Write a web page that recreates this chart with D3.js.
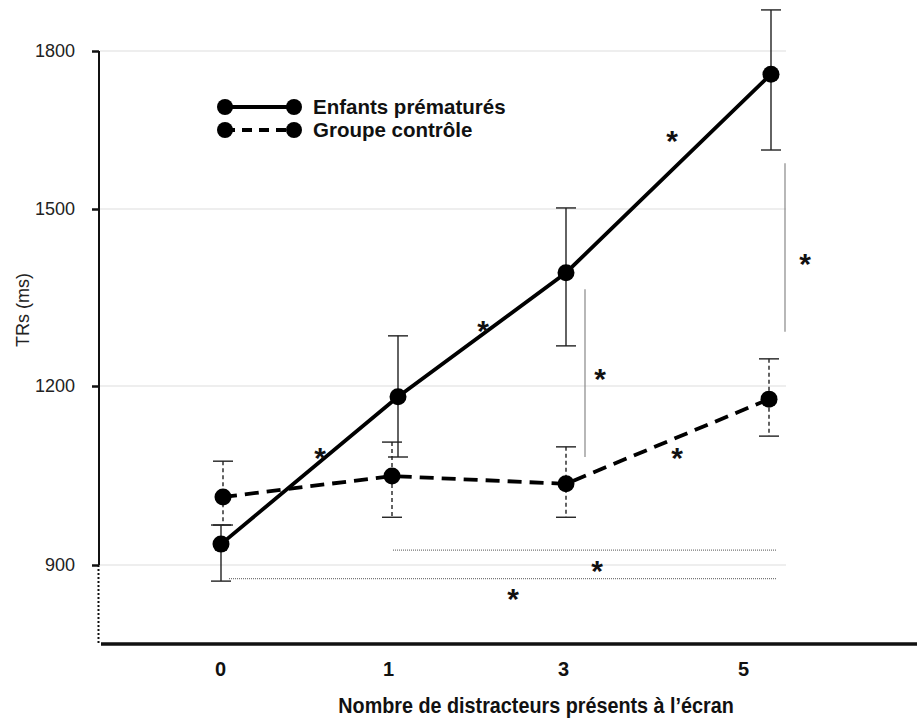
<!DOCTYPE html>
<html><head><meta charset="utf-8">
<script src="https://cdn.jsdelivr.net/npm/d3@7"></script>
<style>body{margin:0;background:#fff}svg{display:block}</style>
</head><body>
<svg id="c" width="917" height="719"></svg>
<script>
const categories = ["0","1","3","5"];
const premMean = [935,1182,1392,1756];
const premHigh = [967,1285,1502,1878];
const premLow  = [873,1081,1268,1612];
const ctrlMean = [1014,1049,1036,1178];
const ctrlHigh = [1074,1106,1098,1246];
const ctrlLow  = [967,980,980,1116];
const yTicks = [900,1200,1500,1800];
const seriesNames = ["Enfants prématurés","Groupe contrôle"];
const xTitle = "Nombre de distracteurs présents à l’écran";
const yTitle = "TRs (ms)";
// significance comparisons (values)
const vertComp = [{cat:"3", lo:1081, hi:1364}, {cat:"5", lo:1292, hi:1587}];
const horizComp = [{from:"1", to:"5", v:925}, {from:"0", to:"5", v:877}];

const svg = d3.select("#c");
const font = "'Liberation Sans', Arial, sans-serif";

const y = d3.scaleLinear().domain([900,1200,1500,1800]).range([565,386,209,51]);
const xPrem = d3.scaleOrdinal().domain(categories).range([221,398,566,771]);
const xCtrl = d3.scaleOrdinal().domain(categories).range([223,392,566,769]);
const xLab  = d3.scaleOrdinal().domain(categories).range([220,388,563,743]);

// grid
svg.append("g").selectAll("line").data(yTicks).join("line")
  .attr("x1",100).attr("x2",786).attr("y1",d=>y(d)).attr("y2",d=>y(d))
  .attr("stroke","#e9e9e9").attr("stroke-width",1.3);

// y axis
const ya = svg.append("g").attr("transform","translate(99,0)")
  .call(d3.axisLeft(y).tickValues(yTicks).tickSize(7).tickPadding(17).tickFormat(d3.format("d")));
ya.select(".domain").remove();
ya.selectAll(".tick line").attr("stroke","#111").attr("stroke-width",2.5);
ya.selectAll(".tick text").attr("font-family",font).attr("font-size",18).attr("fill","#222");
svg.append("line").attr("x1",99).attr("x2",99).attr("y1",y(1800)).attr("y2",y(900))
  .attr("stroke","#111").attr("stroke-width",2);
svg.append("line").attr("x1",98.5).attr("x2",98.5).attr("y1",y(900)).attr("y2",643)
  .attr("stroke","#111").attr("stroke-width",2).attr("stroke-dasharray","2,2");

// x axis
svg.append("line").attr("x1",101).attr("x2",917).attr("y1",644).attr("y2",644)
  .attr("stroke","#111").attr("stroke-width",3.5);
const xa = svg.append("g").attr("transform","translate(0,644)")
  .call(d3.axisBottom(xLab).tickSize(0).tickPadding(18));
xa.select(".domain").remove();
xa.selectAll(".tick text").attr("font-family",font).attr("font-size",20).attr("font-weight","bold").attr("fill","#111");

// titles
svg.append("text").attr("transform","translate(536,713) scale(0.92,1)").attr("text-anchor","middle")
  .attr("font-family",font).attr("font-size",21.5).attr("font-weight","bold").attr("fill","#111").text(xTitle);
svg.append("text").attr("transform","translate(23,310) rotate(-90)").attr("text-anchor","middle")
  .attr("dominant-baseline","central").attr("font-family",font).attr("font-size",18).attr("fill","#222").text(yTitle);

// significance lines
svg.append("g").selectAll("line").data(vertComp).join("line")
  .attr("x1",(d,i)=>xPrem(d.cat)+(i===0?19:14)).attr("x2",(d,i)=>xPrem(d.cat)+(i===0?19:14))
  .attr("y1",d=>y(d.lo)).attr("y2",d=>y(d.hi)).attr("stroke","#888").attr("stroke-width",1.2);
svg.append("g").selectAll("line").data(horizComp).join("line")
  .attr("x1",d=>d.from==="0"?xPrem(d.from)+8:xCtrl(d.from)+1).attr("x2",d=>xPrem(d.to)+5)
  .attr("y1",d=>y(d.v)).attr("y2",d=>y(d.v)).attr("stroke","#777").attr("stroke-width",1.2)
  .attr("stroke-dasharray","1,1");

// error bars
function errBars(x, mean, hi, lo, dash){
  const g = svg.append("g");
  categories.forEach((c,i)=>{
    g.append("line").attr("x1",x(c)).attr("x2",x(c)).attr("y1",y(hi[i])).attr("y2",y(lo[i]))
      .attr("stroke","#222").attr("stroke-width",1.4).attr("stroke-dasharray",dash);
    [hi[i],lo[i]].forEach(v=>{
      g.append("line").attr("x1",x(c)-10).attr("x2",x(c)+10).attr("y1",y(v)).attr("y2",y(v))
        .attr("stroke","#222").attr("stroke-width",1.4);
    });
  });
}
errBars(xCtrl, ctrlMean, ctrlHigh, ctrlLow, "4,3");
errBars(xPrem, premMean, premHigh, premLow, null);

// lines
const lineP = d3.line().x((d,i)=>xPrem(categories[i])).y(d=>y(d));
const lineC = d3.line().x((d,i)=>xCtrl(categories[i])).y(d=>y(d));
svg.append("path").attr("d",lineC(ctrlMean)).attr("fill","none").attr("stroke","#000")
  .attr("stroke-width",3.8).attr("stroke-dasharray","14,8");
svg.append("path").attr("d",lineP(premMean)).attr("fill","none").attr("stroke","#000")
  .attr("stroke-width",3.8);
svg.append("g").selectAll("circle").data(ctrlMean).join("circle")
  .attr("cx",(d,i)=>xCtrl(categories[i])).attr("cy",d=>y(d)).attr("r",8.5).attr("fill","#000");
svg.append("g").selectAll("circle").data(premMean).join("circle")
  .attr("cx",(d,i)=>xPrem(categories[i])).attr("cy",d=>y(d)).attr("r",8.5).attr("fill","#000");

// legend
[[107,null],[130,"10,7"]].forEach(([ly,dash],i)=>{
  svg.append("line").attr("x1",225).attr("x2",294).attr("y1",ly).attr("y2",ly)
    .attr("stroke","#000").attr("stroke-width",3.8).attr("stroke-dasharray",dash);
  [225,294].forEach(cx=>svg.append("circle").attr("cx",cx).attr("cy",ly).attr("r",8).attr("fill","#000"));
  svg.append("text").attr("x",313).attr("y",ly+7).attr("font-family",font).attr("font-size",20.5)
    .attr("font-weight","bold").attr("fill","#111").text(seriesNames[i]);
});

// stars
const stars = [[320,452],[483,325],[672,135],[600,373],[805,258],[677,452],[597,565],[513,593]];
svg.append("g").selectAll("text").data(stars).join("text")
  .attr("x",d=>d[0]).attr("y",d=>d[1]+16).attr("text-anchor","middle")
  .attr("font-family",font).attr("font-size",30).attr("font-weight","bold").attr("fill","#111").text("*");
</script>
</body></html>
